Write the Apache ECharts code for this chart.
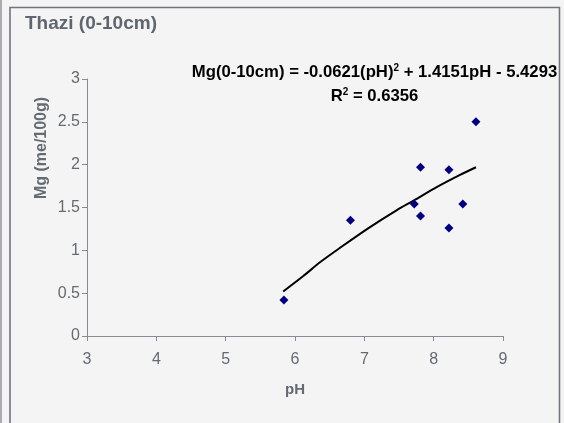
<!DOCTYPE html>
<html>
<head>
<meta charset="utf-8">
<script src="https://cdn.jsdelivr.net/npm/echarts@6/dist/echarts.min.js"></script>
<style>
html,body{margin:0;padding:0;background:#f4f4f4;}
#chart{width:564px;height:423px;}
</style>
</head>
<body>
<div id="chart"></div>
<script>
// Observed points
var pHValues = [5.84, 6.80, 7.72, 7.81, 7.81, 8.22, 8.22, 8.42, 8.61];
var mgValues = [0.42, 1.35, 1.54, 1.40, 1.97, 1.94, 1.26, 1.54, 2.50];
// Trendline as drawn in the picture
var trendPH = [5.83, 6.12, 6.36, 6.65, 7.06, 7.47, 7.71, 8.05, 8.38, 8.61];
var trendMg = [0.52, 0.70, 0.86, 1.03, 1.26, 1.47, 1.58, 1.74, 1.88, 1.97];
// Axis ticks
var xTicks = [3, 4, 5, 6, 7, 8, 9];
var yTicks = [0, 0.5, 1, 1.5, 2, 2.5, 3];

var titleText = 'Thazi (0-10cm)';
var xName = 'pH';
var yName = 'Mg (me/100g)';

var FONT = '"Liberation Sans", Arial, sans-serif';
var TXT = '#656b72';
var AXIS = '#868c93';

var scatterData = pHValues.map(function (x, i) { return [x, mgValues[i]]; });
var trendData = trendPH.map(function (x, i) { return [x, trendMg[i]]; });

var chart = echarts.init(document.getElementById('chart'), null, {renderer: 'canvas'});
chart.setOption({
  backgroundColor: '#f4f4f4',
  animation: false,
  title: {
    text: titleText,
    left: 20, top: 9,
    textStyle: {fontFamily: FONT, fontSize: 19, fontWeight: 'bold', color: '#5f666d'}
  },
  grid: {left: 87, right: 61, top: 79, bottom: 87, containLabel: false},
  xAxis: {
    type: 'value', min: xTicks[0], max: xTicks[xTicks.length - 1], interval: 1,
    name: xName, nameLocation: 'middle', nameGap: 46,
    nameTextStyle: {fontFamily: FONT, fontSize: 15, fontWeight: 'bold', color: TXT},
    axisLine: {show: true, onZero: false, lineStyle: {color: AXIS, width: 1}},
    axisTick: {show: true, inside: false, length: 5, lineStyle: {color: AXIS}},
    axisLabel: {fontFamily: FONT, fontSize: 16, color: TXT, margin: 16},
    splitLine: {show: false}
  },
  yAxis: {
    type: 'value', min: yTicks[0], max: yTicks[yTicks.length - 1], interval: 0.5,
    axisLine: {show: true, onZero: false, lineStyle: {color: AXIS, width: 1}},
    axisTick: {show: true, inside: false, length: 5, lineStyle: {color: AXIS}},
    axisLabel: {fontFamily: FONT, fontSize: 16, color: TXT, margin: 7},
    splitLine: {show: false}
  },
  graphic: [
    {type: 'rect', shape: {x: 1, y: -5, width: 0, height: 440}, style: {stroke: '#a9adb1', lineWidth: 2, fill: null}, silent: true},
    {type: 'rect', shape: {x: 10, y: 7.5, width: 549.5, height: 430}, style: {stroke: '#6f767d', lineWidth: 1.6, fill: null}, silent: true},
    {
      type: 'text', x: 42, y: 148, rotation: Math.PI / 2,
      style: {text: yName, font: 'bold 16px ' + FONT, fill: TXT, textAlign: 'center', textVerticalAlign: 'middle'}
    },
    {
      type: 'text', x: 374.5, y: 60,
      style: {
        text: '{b|Mg(0-10cm) = -0.0621(pH)}{s|2}{b| + 1.4151pH - 5.4293}\n{b|R}{s|2}{b| = 0.6356}',
        align: 'center',
        rich: {
          b: {fontFamily: FONT, fontSize: 16.7, fontWeight: 'bold', color: TXT, lineHeight: 24},
          s: {fontFamily: FONT, fontSize: 10, fontWeight: 'bold', color: TXT, lineHeight: 24, padding: [0, 0, 8, 0]}
        }
      }
    }
  ],
  series: [
    {
      type: 'line', data: trendData, smooth: 0.3, showSymbol: false, symbol: 'none',
      lineStyle: {color: '#000000', width: 2}, z: 2
    },
    {
      type: 'scatter', data: scatterData, symbol: 'diamond', symbolSize: 9,
      itemStyle: {color: '#000080', opacity: 1}, z: 3
    }
  ]
});
</script>
</body>
</html>
